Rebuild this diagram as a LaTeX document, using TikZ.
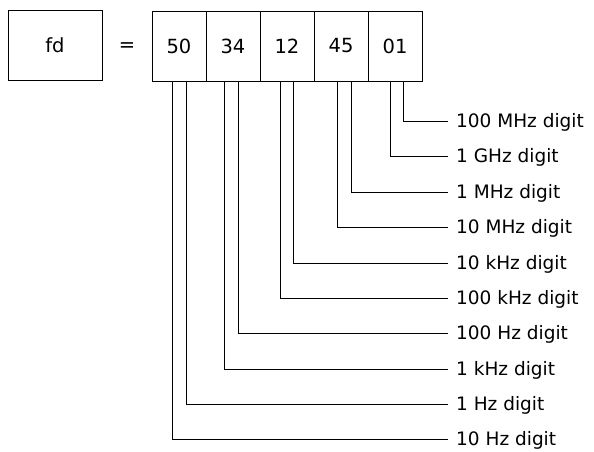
\documentclass[tikz,border=0pt]{standalone}
\usepackage{fontspec}
\setmainfont{DejaVu Sans}
\begin{document}
\begin{tikzpicture}[x=1pt,y=-1pt,
  box/.style={draw,line width=1pt,minimum height=70pt,inner sep=0pt},
  lbl/.style={anchor=west,inner xsep=8pt,inner ysep=0pt,text height=13.5pt,text depth=0pt,font=\fontsize{18.5}{20}\selectfont},
  conn/.style={line width=1pt}]
\useasboundingbox (0,0) rectangle (594,451);
\tikzset{every node/.append style={font=\fontsize{19.5}{22}\selectfont}}
\node[box,minimum width=94pt] (fd) at (55,45) {fd};
\node (eq) at (127,47) {=};
\node[box,minimum width=54pt] (d1) at (179,46) {50};
\node[box,minimum width=54pt] (d2) at (233,46) {34};
\node[box,minimum width=54pt] (d3) at (287,46) {12};
\node[box,minimum width=54pt] (d4) at (341,46) {45};
\node[box,minimum width=54pt] (d5) at (395,46) {01};
\node[lbl] (l1) at (448,121) {100 MHz digit};
\node[lbl] (l2) at (448,156) {1 GHz digit};
\node[lbl] (l3) at (448,192) {1 MHz digit};
\node[lbl] (l4) at (448,227) {10 MHz digit};
\node[lbl] (l5) at (448,263) {10 kHz digit};
\node[lbl] (l6) at (448,298) {100 kHz digit};
\node[lbl] (l7) at (448,333) {100 Hz digit};
\node[lbl] (l8) at (448,369) {1 kHz digit};
\node[lbl] (l9) at (448,404) {1 Hz digit};
\node[lbl] (l10) at (448,439) {10 Hz digit};
\draw[conn] ([xshift=8pt]d5.south) |- (l1.west);
\draw[conn] ([xshift=-5pt]d5.south) |- (l2.west);
\draw[conn] ([xshift=10pt]d4.south) |- (l3.west);
\draw[conn] ([xshift=-4pt]d4.south) |- (l4.west);
\draw[conn] ([xshift=6pt]d3.south) |- (l5.west);
\draw[conn] ([xshift=-7pt]d3.south) |- (l6.west);
\draw[conn] ([xshift=5pt]d2.south) |- (l7.west);
\draw[conn] ([xshift=-9pt]d2.south) |- (l8.west);
\draw[conn] ([xshift=7pt]d1.south) |- (l9.west);
\draw[conn] ([xshift=-7pt]d1.south) |- (l10.west);
\end{tikzpicture}
\end{document}
